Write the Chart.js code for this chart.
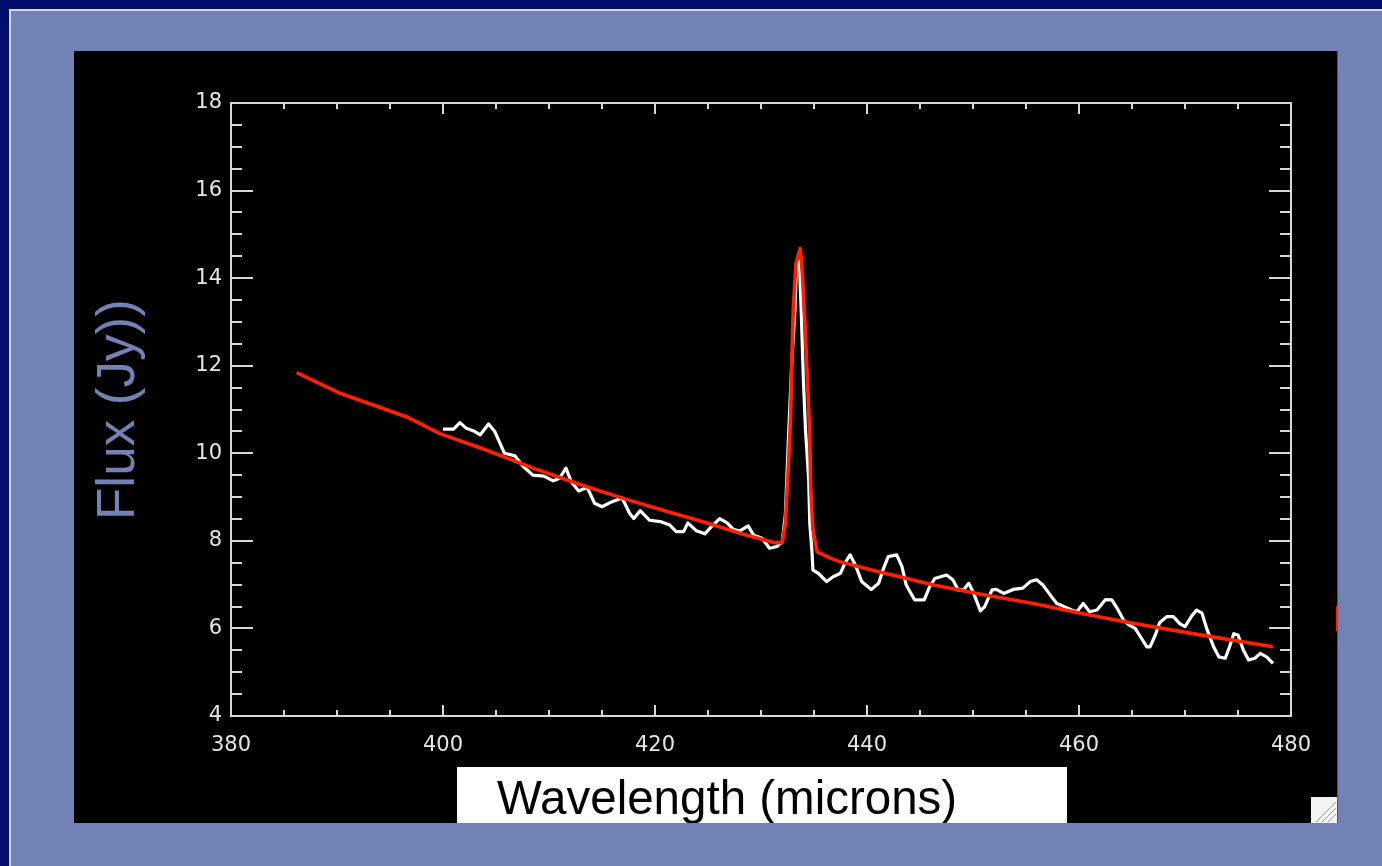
<!DOCTYPE html>
<html>
<head>
<meta charset="utf-8">
<title>Flux vs Wavelength</title>
<script src="https://cdn.jsdelivr.net/npm/chart.js@4/dist/chart.umd.min.js"></script>
<style>
  html, body { margin: 0; padding: 0; }
  body { width: 1382px; height: 866px; background: #020d70; position: relative; overflow: hidden; }
  #slide { position: absolute; left: 9px; top: 9px; right: 0; bottom: 0; background: #7282b4; border-left: 2px solid #d4daee; border-top: 2px solid #d4daee; }
  #panel { position: absolute; left: 74px; top: 51px; width: 1264px; height: 772px; background: #000; }
  #spectrumChart { display: block; }
</style>
</head>
<body>
<div id="slide"></div>
<div id="panel"><canvas id="spectrumChart" width="1264" height="772"></canvas></div>
<script>
// axis labels
const xTickValues = [380, 400, 420, 440, 460, 480];
const yTickValues = [4, 6, 8, 10, 12, 14, 16, 18];
const xTitle = 'Wavelength (microns)';
const yTitle = 'Flux (Jy))';

// observed spectrum (white)
const obsWavelength = [
  400.0, 401.0, 401.6, 402.2, 402.9, 403.5, 404.3, 404.9, 405.8, 406.8,
  407.6, 408.5, 409.5, 410.4, 411.0, 411.6, 412.1, 412.8, 413.6, 414.3,
  415.0, 415.9, 416.9, 417.6, 418.0, 418.6, 419.5, 420.5, 421.4, 422.0,
  422.7, 423.1, 423.9, 424.7, 425.3, 426.1, 426.8, 427.4, 428.0, 428.8,
  429.3, 430.1, 430.8, 431.5, 432.0, 432.3, 432.6, 432.9, 433.2, 433.35,
  433.6, 433.8, 434.0, 434.2, 434.5, 434.6, 434.8, 434.9, 435.4, 436.2,
  436.8, 437.5, 437.9, 438.4, 438.9, 439.5, 440.4, 441.1, 441.5, 442.0,
  442.8, 443.3, 443.7, 444.5, 445.4, 445.9, 446.4, 447.5, 448.1, 448.6,
  449.1, 449.6, 450.0, 450.7, 451.1, 451.8, 452.2, 452.9, 453.8, 454.7,
  455.4, 456.0, 456.6, 457.3, 457.9, 458.5, 459.3, 459.8, 460.4, 461.0,
  461.7, 462.5, 463.1, 463.6, 464.2, 464.7, 465.3, 465.9, 466.4, 466.7,
  467.2, 467.6, 468.3, 468.9, 469.5, 470.0, 470.6, 471.1, 471.6, 472.1,
  472.7, 473.2, 473.8, 474.2, 474.6, 475.0, 475.5, 476.0, 476.6, 477.1,
  477.7, 478.3
];
const obsFlux = [
  10.55, 10.55, 10.70, 10.57, 10.51, 10.42, 10.67, 10.49, 10.00, 9.94,
  9.69, 9.50, 9.48, 9.37, 9.43, 9.66, 9.35, 9.14, 9.22, 8.86,
  8.78, 8.89, 8.98, 8.63, 8.51, 8.69, 8.47, 8.44, 8.36, 8.21,
  8.21, 8.41, 8.23, 8.16, 8.32, 8.51, 8.41, 8.26, 8.23, 8.34,
  8.13, 8.06, 7.83, 7.87, 7.98, 8.60, 10.40, 12.05, 13.27, 14.30,
  14.57, 13.20, 11.67, 10.53, 9.39, 8.40, 7.79, 7.33, 7.26, 7.07,
  7.18, 7.26, 7.48, 7.68, 7.45, 7.07, 6.89, 7.03, 7.33, 7.64,
  7.68, 7.41, 6.99, 6.65, 6.65, 6.95, 7.14, 7.22, 7.11, 6.88,
  6.88, 7.03, 6.84, 6.40, 6.50, 6.88, 6.89, 6.80, 6.89, 6.92,
  7.07, 7.11, 6.99, 6.76, 6.57, 6.51, 6.42, 6.38, 6.57, 6.38,
  6.42, 6.66, 6.65, 6.46, 6.19, 6.08, 6.00, 5.77, 5.58, 5.58,
  5.85, 6.13, 6.27, 6.27, 6.11, 6.04, 6.27, 6.42, 6.35, 5.96,
  5.58, 5.35, 5.32, 5.58, 5.88, 5.85, 5.51, 5.28, 5.32, 5.43,
  5.35, 5.20
];

// model fit (red)
const fitWavelength = [
  386.2, 390.3, 396.6, 399.7, 404.0, 408.5, 413.0, 417.0, 421.0, 425.0,
  428.5, 431.2, 432.0, 432.3, 432.6, 432.8, 432.9, 433.05, 433.3, 433.7,
  433.9, 434.15, 434.4, 434.6, 434.7, 434.9, 435.3, 436.6, 437.5, 441.0,
  446.3, 451.0, 455.7, 460.5, 465.1, 471.0, 478.3
];
const fitFlux = [
  11.84, 11.37, 10.83, 10.45, 10.08, 9.66, 9.28, 8.97, 8.68, 8.40,
  8.14, 7.96, 7.96, 8.40, 9.77, 10.83, 12.05, 13.34, 14.33, 14.68,
  14.11, 12.96, 11.59, 10.38, 9.16, 8.25, 7.75, 7.60, 7.52, 7.30,
  6.99, 6.77, 6.57, 6.33, 6.12, 5.87, 5.58
];

function toPoints(xs, ys) {
  return xs.map((x, i) => ({ x: x, y: ys[i] }));
}

// draws the boxed frame with inward ticks, the titles and the corner grip
const frameDecor = {
  id: 'frameDecor',
  afterDraw(chart) {
    const ctx = chart.ctx;
    const area = chart.chartArea;
    const xs = chart.scales.x;
    const ys = chart.scales.y;
    const axisColor = '#d8d8d8';

    ctx.save();
    ctx.strokeStyle = axisColor;
    ctx.lineWidth = 2;
    ctx.strokeRect(area.left, area.top, area.right - area.left, area.bottom - area.top);

    // x ticks every 5, longer at labelled values
    for (let v = xs.min; v <= xs.max + 0.001; v += 5) {
      const px = Math.round(xs.getPixelForValue(v));
      const len = xTickValues.includes(v) ? 11 : 6;
      ctx.beginPath();
      ctx.moveTo(px, area.bottom);
      ctx.lineTo(px, area.bottom - len);
      ctx.moveTo(px, area.top);
      ctx.lineTo(px, area.top + len);
      ctx.stroke();
    }
    // y ticks every 0.5
    for (let v = ys.min; v <= ys.max + 0.001; v += 0.5) {
      const py = Math.round(ys.getPixelForValue(v));
      const len = yTickValues.includes(v) ? 22 : 11;
      ctx.beginPath();
      ctx.moveTo(area.left, py);
      ctx.lineTo(area.left + len, py);
      ctx.moveTo(area.right, py);
      ctx.lineTo(area.right - len, py);
      ctx.stroke();
    }

    // y title, rotated
    ctx.save();
    ctx.translate(60, 469);
    ctx.rotate(-Math.PI / 2);
    ctx.fillStyle = '#7282b4';
    ctx.font = '53px "Liberation Sans", Arial, sans-serif';
    ctx.textAlign = 'left';
    ctx.textBaseline = 'alphabetic';
    ctx.fillText(yTitle, 0, 0);
    ctx.restore();

    // x title on its white box
    ctx.fillStyle = '#ffffff';
    ctx.fillRect(383, 716, 610, 56);
    ctx.fillStyle = '#000000';
    ctx.font = '47.5px "Liberation Sans", Arial, sans-serif';
    ctx.textAlign = 'left';
    ctx.textBaseline = 'alphabetic';
    ctx.fillText(xTitle, 423, 763);

    // window resize grip in the corner
    ctx.fillStyle = '#f4f4f4';
    ctx.fillRect(1237, 746, 26, 26);
    ctx.strokeStyle = '#9a9a9a';
    ctx.lineWidth = 1;
    [8, 14, 20].forEach(d => {
      ctx.beginPath();
      ctx.moveTo(1262 - d, 771);
      ctx.lineTo(1262, 771 - d);
      ctx.stroke();
    });

    // thin edge on the right of the panel
    ctx.strokeStyle = '#2f6262';
    ctx.beginPath();
    ctx.moveTo(1263.5, 0);
    ctx.lineTo(1263.5, 772);
    ctx.stroke();
    ctx.strokeStyle = '#ff2000';
    ctx.lineWidth = 2;
    ctx.beginPath();
    ctx.moveTo(1263, 555);
    ctx.lineTo(1263, 580);
    ctx.stroke();
    ctx.restore();
  }
};

const tickFont = { family: '"DejaVu Sans", sans-serif', size: 21 };

new Chart(document.getElementById('spectrumChart'), {
  type: 'line',
  data: {
    datasets: [
      {
        label: 'fit',
        data: toPoints(fitWavelength, fitFlux),
        borderColor: '#ff2000',
        borderWidth: 3.6,
        pointRadius: 0,
        tension: 0,
        borderJoinStyle: 'round'
      },
      {
        label: 'observed',
        data: toPoints(obsWavelength, obsFlux),
        borderColor: '#ffffff',
        borderWidth: 3.2,
        pointRadius: 0,
        tension: 0,
        borderJoinStyle: 'round'
      }
    ]
  },
  options: {
    responsive: false,
    animation: false,
    layout: { padding: { left: 0, top: 52, right: 47, bottom: 0 } },
    scales: {
      x: {
        type: 'linear',
        min: 380,
        max: 480,
        afterFit: scale => { scale.height = 107; },
        afterBuildTicks: scale => { scale.ticks = xTickValues.map(v => ({ value: v })); },
        grid: { display: false, drawTicks: false },
        border: { display: false },
        ticks: { color: '#e6e6e6', font: tickFont, padding: 17, maxRotation: 0 }
      },
      y: {
        min: 4,
        max: 18,
        afterFit: scale => { scale.width = 157; },
        afterBuildTicks: scale => { scale.ticks = yTickValues.map(v => ({ value: v })); },
        grid: { display: false, drawTicks: false },
        border: { display: false },
        ticks: { color: '#e6e6e6', font: tickFont, padding: 9 }
      }
    },
    plugins: {
      legend: { display: false },
      tooltip: { enabled: false }
    }
  },
  plugins: [frameDecor]
});
</script>
</body>
</html>
